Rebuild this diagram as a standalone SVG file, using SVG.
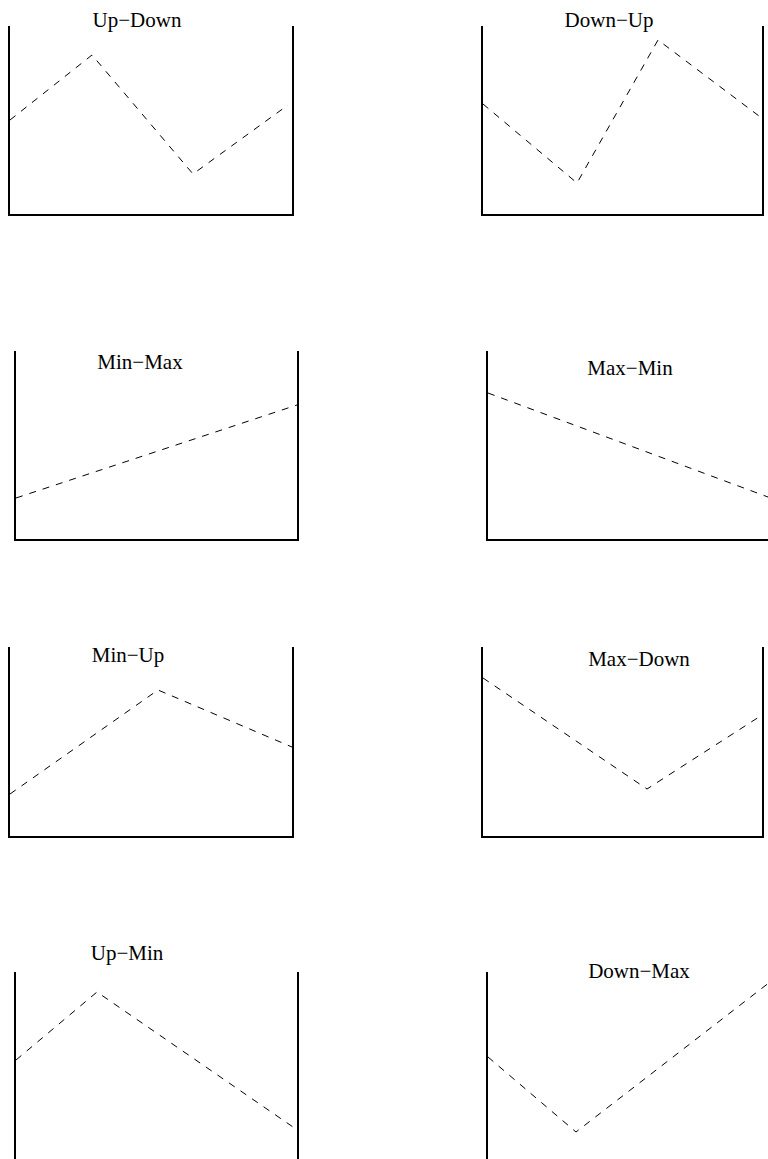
<svg xmlns="http://www.w3.org/2000/svg" width="768" height="1159" viewBox="0 0 768 1159">
<style>
.frame{fill:none;stroke:#000;stroke-width:2;stroke-linejoin:miter;stroke-linecap:square}
.curve{fill:none;stroke:#000;stroke-width:1;stroke-dasharray:7 7}
.title{font-family:"Liberation Serif","Times New Roman",serif;font-size:21px;fill:#000;text-anchor:middle}
</style>
<rect width="768" height="1159" fill="#fff"/>
<g id="panel-up-down">
<polyline class="frame" points="9,27 9,215 293,215 293,27"/>
<polyline class="curve" points="10,120 92,55 193,174 288,105"/>
<text class="title" x="137" y="27">Up−Down</text>
</g>
<g id="panel-down-up">
<polyline class="frame" points="482,27 482,215 763,215 763,27"/>
<polyline class="curve" points="483,104 577,183 658,40 763,119"/>
<text class="title" x="609" y="27">Down−Up</text>
</g>
<g id="panel-min-max">
<polyline class="frame" points="15,352 15,540 298,540 298,352"/>
<polyline class="curve" points="16,498 297,405"/>
<text class="title" x="140" y="369">Min−Max</text>
</g>
<g id="panel-max-min">
<polyline class="frame" points="487,352 487,540 770,540"/>
<polyline class="curve" points="488,393 768,497"/>
<text class="title" x="630" y="375">Max−Min</text>
</g>
<g id="panel-min-up">
<polyline class="frame" points="9,648 9,837 293,837 293,648"/>
<polyline class="curve" points="10,794 158,690 292,747"/>
<text class="title" x="128" y="662">Min−Up</text>
</g>
<g id="panel-max-down">
<polyline class="frame" points="482,648 482,837 763,837 763,648"/>
<polyline class="curve" points="483,678 647,789 759,717"/>
<text class="title" x="639" y="666">Max−Down</text>
</g>
<g id="panel-up-min">
<polyline class="frame" points="15,973 15,1162"/>
<polyline class="frame" points="298,973 298,1162"/>
<polyline class="curve" points="16,1060 97,992 293,1127"/>
<text class="title" x="127" y="960">Up−Min</text>
</g>
<g id="panel-down-max">
<polyline class="frame" points="487,973 487,1162"/>
<polyline class="curve" points="488,1057 576,1132 770,982"/>
<text class="title" x="639" y="978">Down−Max</text>
</g>
</svg>
